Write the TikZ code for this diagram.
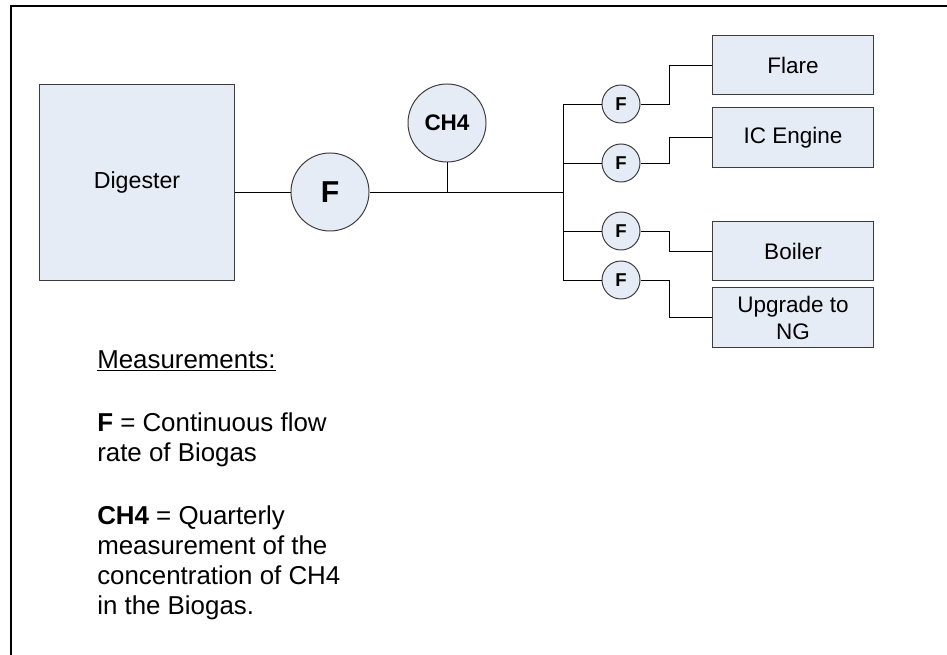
\documentclass[tikz,border=0pt]{standalone}
\usepackage{fontspec}
\setmainfont{Liberation Sans}
\usetikzlibrary{positioning}
\definecolor{unitfill}{RGB}{230,236,246}
\definecolor{unitline}{RGB}{60,60,60}
\tikzset{
  unit/.style={rectangle, draw=unitline, fill=unitfill, line width=0.7pt, inner sep=0pt, align=center},
  meter/.style={circle, draw=unitline, fill=unitfill, line width=0.7pt, inner sep=0pt, font=\bfseries},
  pipe/.style={line width=0.7pt}
}
\begin{document}
\begin{tikzpicture}[x=0.025cm, y=-0.025cm]
    \useasboundingbox (0,0) rectangle (947,655);
    \draw[line width=1.8pt] (11,655) -- (11,6) -- (947,6);

    \node[unit, minimum width=4.85cm, minimum height=4.875cm, font=\fontsize{16.5}{19}\selectfont] (dig) at (137,182.5) {Digester};
    \node[meter, minimum size=1.95cm, font=\fontsize{21.5}{24}\selectfont\bfseries] (fmain) at (330,192) {F};
    \node[meter, minimum size=1.95cm, font=\fontsize{16}{19}\selectfont\bfseries] (ch4) at (447,123) {CH4};
    \coordinate (trunk) at (563,192);
    \coordinate (bend) at (669,192);

    \node[meter, minimum size=0.95cm, font=\fontsize{13.2}{15}\selectfont\bfseries] (f1) at (621,104) {F};
    \node[meter, minimum size=0.95cm, font=\fontsize{13.2}{15}\selectfont\bfseries] (f2) at (621,163) {F};
    \node[meter, minimum size=0.95cm, font=\fontsize{13.2}{15}\selectfont\bfseries] (f3) at (621,231) {F};
    \node[meter, minimum size=0.95cm, font=\fontsize{13.2}{15}\selectfont\bfseries] (f4) at (621,280) {F};

    \node[unit, minimum width=4cm, minimum height=1.45cm, font=\fontsize{16}{19}\selectfont] (flare) at (793,65) {Flare};
    \node[unit, minimum width=4cm, minimum height=1.475cm, font=\fontsize{16}{19}\selectfont] (ice) at (793,137.5) {IC Engine};
    \node[unit, minimum width=4cm, minimum height=1.45cm, font=\fontsize{16}{19}\selectfont] (boiler) at (793,251) {Boiler};
    \node[unit, minimum width=4cm, minimum height=1.475cm, font=\fontsize{16}{19.2}\selectfont] (upng) at (793,317.5) {Upgrade to\\NG};

    \draw[pipe] (dig.east |- fmain) -- (fmain.west);
    \draw[pipe] (fmain.east) -- (trunk);
    \draw[pipe] (ch4.south) -- (ch4 |- trunk);
    \draw[pipe] (trunk |- f1) -- (trunk |- f4);
    \foreach \m/\b in {f1/flare, f2/ice, f3/boiler, f4/upng} {
      \draw[pipe] (trunk |- \m) -- (\m.west);
      \draw[pipe] (\m.east) -- (\m.east -| bend) |- (\b.west);
    }

    \node[anchor=base west, inner sep=0pt, align=left, font=\fontsize{18.4}{21.3}\selectfont] (legend) at (97,614)
      {\underline{Measurements:}\\[23.5pt]
       \textbf{F} = Continuous flow\\
       rate of Biogas\\[23.5pt]
       \textbf{CH4} = Quarterly\\
       measurement of the\\
       concentration of CH4\\
       in the Biogas.};
\end{tikzpicture}
\end{document}
